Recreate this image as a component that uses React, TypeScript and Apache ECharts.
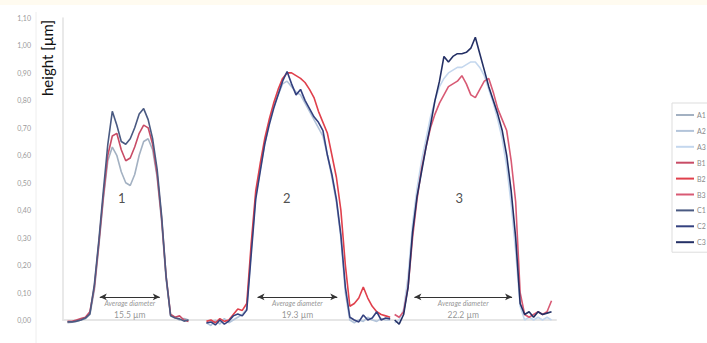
import React, { useEffect, useRef } from "react";
import * as echarts from "echarts";

// x positions (µm) of the profile samples, one list per bump
const bumpX1 = [1, 2, 3, 4, 5, 6, 7, 8, 9, 10, 11, 12, 13, 14, 15, 16, 17, 18, 19, 20, 21, 22, 23, 24, 25, 26, 27, 28];
const bumpX2 = [32, 33, 34, 35, 36, 37, 38, 39, 40, 41, 42, 43, 44, 45, 46, 47, 48, 49, 50, 51, 52, 53, 54, 55, 56, 57, 58, 59, 60, 61, 62, 63, 64, 65, 66, 67, 68, 69, 70, 71, 72, 73];
const bumpX3 = [74, 75, 76, 77, 78, 79, 80, 81, 82, 83, 84, 85, 86, 87, 88, 89, 90, 91, 92, 93, 94, 95, 96, 97, 98, 99, 100, 101, 102, 103, 104, 105, 106, 107, 108, 109];

// heights (µm)
const A1 = [-0.01, -0.008, -0.005, 0.0, 0.005, 0.02, 0.11, 0.27, 0.44, 0.58, 0.63, 0.6, 0.54, 0.5, 0.49, 0.53, 0.6, 0.65, 0.66, 0.62, 0.52, 0.36, 0.15, 0.02, 0.01, 0.0, 0.005, 0.0];
const B1 = [-0.005, -0.005, 0.0, 0.005, 0.01, 0.03, 0.12, 0.28, 0.45, 0.6, 0.67, 0.68, 0.62, 0.58, 0.59, 0.63, 0.68, 0.71, 0.7, 0.64, 0.53, 0.37, 0.16, 0.02, 0.01, 0.015, 0.0, -0.005];
const C1 = [-0.007, -0.007, -0.004, 0.0, 0.007, 0.022, 0.13, 0.29, 0.47, 0.64, 0.76, 0.71, 0.65, 0.64, 0.66, 0.7, 0.75, 0.77, 0.73, 0.66, 0.55, 0.38, 0.16, 0.015, 0.007, 0.004, -0.004, 0.0];

const A2 = [-0.01, -0.02, 0.0, -0.015, 0.005, -0.01, 0.0, 0.01, 0.02, 0.04, 0.26, 0.45, 0.55, 0.64, 0.72, 0.78, 0.82, 0.86, 0.87, 0.85, 0.83, 0.82, 0.79, 0.76, 0.73, 0.7, 0.67, 0.6, 0.52, 0.43, 0.3, 0.1, 0.0, -0.01, 0.0, -0.005, 0.01, 0.0, -0.005, 0.005, 0.0, 0.0];
const B2 = [-0.005, 0.0, -0.01, 0.005, -0.005, 0.0, 0.02, 0.04, 0.035, 0.06, 0.28, 0.47, 0.57, 0.66, 0.73, 0.79, 0.84, 0.88, 0.9, 0.9, 0.89, 0.88, 0.865, 0.84, 0.81, 0.76, 0.72, 0.68, 0.6, 0.52, 0.4, 0.2, 0.05, 0.06, 0.08, 0.12, 0.08, 0.05, 0.03, 0.02, 0.015, 0.01];
const C2 = [-0.011, -0.007, -0.018, 0.0, -0.015, -0.004, 0.015, 0.022, 0.015, 0.036, 0.24, 0.44, 0.54, 0.64, 0.71, 0.77, 0.82, 0.87, 0.905, 0.86, 0.82, 0.84, 0.8, 0.77, 0.74, 0.72, 0.69, 0.6, 0.53, 0.44, 0.31, 0.12, 0.01, 0.0, -0.007, 0.018, 0.0, 0.007, 0.03, 0.0, 0.007, 0.004];

const A3 = [-0.01, 0.0, 0.04, 0.16, 0.35, 0.48, 0.58, 0.66, 0.74, 0.8, 0.85, 0.88, 0.9, 0.91, 0.92, 0.92, 0.93, 0.94, 0.94, 0.92, 0.89, 0.84, 0.79, 0.73, 0.66, 0.56, 0.42, 0.25, 0.05, 0.0, 0.01, 0.0, 0.01, 0.0, 0.01, 0.0];
const B3 = [0.02, 0.01, 0.03, 0.12, 0.3, 0.44, 0.55, 0.63, 0.7, 0.75, 0.79, 0.82, 0.85, 0.86, 0.87, 0.89, 0.86, 0.82, 0.81, 0.84, 0.87, 0.88, 0.83, 0.77, 0.73, 0.69, 0.58, 0.43, 0.1, 0.02, 0.01, 0.02, 0.03, 0.02, 0.03, 0.07];
const C3 = [0.0, -0.015, 0.02, 0.12, 0.32, 0.45, 0.54, 0.63, 0.71, 0.8, 0.87, 0.96, 0.94, 0.96, 0.97, 0.97, 0.975, 0.99, 1.03, 0.97, 0.91, 0.85, 0.8, 0.75, 0.69, 0.6, 0.47, 0.3, 0.06, 0.02, 0.03, 0.01, 0.03, 0.02, 0.025, 0.03];

const seriesNames = ["A1", "A2", "A3", "B1", "B2", "B3", "C1", "C2", "C3"];

// annotations
const bumpLabels = ["1", "2", "3"];
const bumpLabelX = [13.1, 49.9, 88.4];
const bumpLabelY = [0.445, 0.445, 0.445];
const arrowStart = [8.2, 43.4, 78.4];
const arrowEnd = [21.6, 61.2, 100.2];
const arrowY = [0.084, 0.084, 0.084];
const diameters = ["15.5 µm", "19.3 µm", "22.2 µm"];
const yTicks = { min: 0, max: 1.1, interval: 0.1 };

const colors: Record<string, string> = {
  A1: "#a3b1c2",
  A2: "#b3c4da",
  A3: "#c4d7ee",
  B1: "#c84c66",
  B2: "#e0404c",
  B3: "#d85a74",
  C1: "#4a5a82",
  C2: "#34417f",
  C3: "#243065",
};

const zip = (xs: number[], ys: number[]) => xs.map((x, i) => [x, ys[i]]);

export default function App() {
  const ref = useRef<HTMLDivElement>(null);
  useEffect(() => {
    if (!ref.current) return;
    const chart = echarts.init(ref.current, null, { renderer: "svg" });
    const profiles: Record<string, number[][]> = {
      A1: zip(bumpX1, A1),
      B1: zip(bumpX1, B1),
      C1: zip(bumpX1, C1),
      A2: zip(bumpX2, A2),
      B2: zip(bumpX2, B2),
      C2: zip(bumpX2, C2),
      A3: zip(bumpX3, A3),
      B3: zip(bumpX3, B3),
      C3: zip(bumpX3, C3),
    };
    const drawOrder = ["A1", "A2", "A3", "B1", "B2", "B3", "C1", "C2", "C3"];
    const lineSeries = drawOrder.map((n) => ({
      name: n,
      type: "line",
      data: profiles[n],
      symbol: "none",
      clip: false,
      lineStyle: { color: colors[n], width: 1.6 },
      itemStyle: { color: colors[n] },
    }));
    const option: any = {
      animation: false,
      backgroundColor: "#ffffff",
      grid: { left: 63, right: 151, top: 18, bottom: 23 },
      xAxis: {
        type: "value",
        min: 0,
        max: 110,
        position: "top",
        axisLine: { show: true, lineStyle: { color: "#e6e6e6", width: 2 } },
        axisTick: { show: false },
        axisLabel: { show: false },
        splitLine: { show: false },
      },
      yAxis: {
        type: "value",
        min: yTicks.min,
        max: yTicks.max,
        interval: yTicks.interval,
        axisLine: { show: true, lineStyle: { color: "#e2e2e2", width: 1.5 } },
        axisTick: { show: false },
        splitLine: { show: false },
        axisLabel: {
          margin: 32,
          fontSize: 7,
          color: "#9a9a9a",
          fontFamily: "Lato",
          formatter: (v: number) => v.toFixed(2).replace(".", ","),
        },
      },
      legend: {
        data: seriesNames.map((n) => ({ name: n, icon: "rect", itemStyle: { color: colors[n] } })),
        orient: "vertical",
        left: 672,
        top: 103,
        padding: [8, 3, 6, 4],
        itemWidth: 18,
        itemHeight: 2,
        itemGap: 7.9,
        borderColor: "#dddddd",
        borderWidth: 1,
        textStyle: { fontSize: 7, color: "#8a8a8a", fontFamily: "Lato", lineHeight: 8, padding: [0, 0, 0, -2] },
      },
      graphic: [
        { type: "rect", shape: { x: 0, y: 0, width: 707, height: 5 }, style: { fill: "#fffbf0" }, silent: true },
        { type: "line", shape: { x1: 36, y1: 12, x2: 36, y2: 343 }, style: { stroke: "#eeeeee", lineWidth: 1 }, silent: true },
        {
          type: "text",
          x: 47,
          y: 58,
          rotation: Math.PI / 2,
          style: {
            text: "height [µm]",
            fontSize: 15,
            fontFamily: "Lato",
            fill: "#111111",
            textAlign: "center",
            textVerticalAlign: "middle",
          },
        },
      ],
      series: [
        ...lineSeries,
        {
          name: "bumps",
          type: "scatter",
          symbolSize: 0,
          data: bumpLabels.map((t, i) => ({ value: [bumpLabelX[i], bumpLabelY[i]], name: t })),
          label: {
            show: true,
            position: "inside",
            formatter: (p: any) => p.name,
            fontSize: 13,
            fontFamily: "Lato",
            color: "#222222",
          },
          silent: true,
        },
        {
          name: "diameters",
          type: "scatter",
          symbolSize: 0,
          data: diameters.map((d, i) => ({ value: [(arrowStart[i] + arrowEnd[i]) / 2, arrowY[i]], name: d })),
          label: {
            show: true,
            position: "bottom",
            distance: 1,
            formatter: (p: any) => `{a|Average diameter}\n{b|${p.name}}`,
            rich: {
              a: { fontSize: 7, fontStyle: "italic", color: "#7a7a7a", fontFamily: "Lato", lineHeight: 11, align: "center" },
              b: { fontSize: 8.5, color: "#7a7a7a", fontFamily: "Lato", lineHeight: 13, align: "center" },
            },
          },
          markLine: {
            silent: true,
            symbol: ["arrow", "arrow"],
            symbolSize: [5, 7],
            label: { show: false },
            lineStyle: { color: "#333333", width: 1, type: "solid" },
            data: arrowStart.map((s, i) => [
              { coord: [s, arrowY[i]] },
              { coord: [arrowEnd[i], arrowY[i]] },
            ]),
          },
          silent: true,
        },
      ],
    };
    chart.setOption(option);
    return () => chart.dispose();
  }, []);
  return (
    <div
      ref={ref}
      style={{ position: "fixed", left: 0, top: 0, width: 707, height: 343, background: "#fff" }}
    />
  );
}
